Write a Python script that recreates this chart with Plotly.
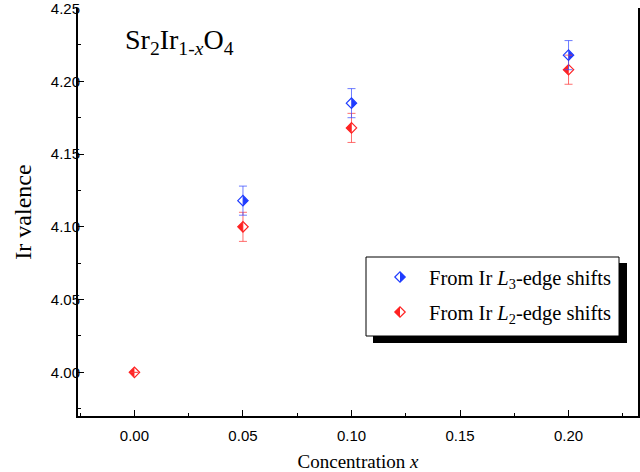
import plotly.graph_objects as go

# ---- data ----
x_L3 = [0.05, 0.10, 0.20]
y_L3 = [4.118, 4.185, 4.218]
e_L3 = [0.010, 0.010, 0.010]

x_L2 = [0.00, 0.05, 0.10, 0.20]
y_L2 = [4.000, 4.100, 4.168, 4.208]
e_L2 = [0.0, 0.010, 0.010, 0.010]

name_L3 = "From Ir <i>L</i><sub>3</sub>-edge shifts"
name_L2 = "From Ir <i>L</i><sub>2</sub>-edge shifts"
title_txt = "Sr<sub>2</sub>Ir<sub>1-<i>x</i></sub>O<sub>4</sub>"

BLUE = "#1f3cff"
RED = "#ff2222"
BLUE_ERR = "rgba(60,80,255,0.75)"
RED_ERR = "rgba(255,60,60,0.75)"

SERIF = "Liberation Serif, Times New Roman, serif"
SANS = "Liberation Sans, Arial, sans-serif"

# ---- geometry (pixels) ----
W, H = 640, 472
L, R, T, B = 78, 638, 8, 416
PW, PH = R - L, B - T


def px(xp):
    return (xp - L) / PW


def py(yp):
    return (B - yp) / PH


MS = 8                     # diamond marker size
CQ = MS * 1.3              # cover square size (half-side = diamond half-diagonal)

fig = go.Figure()


def layer_fill(x, y, color, xa="x", ya="y"):
    fig.add_trace(go.Scatter(x=x, y=y, mode="markers", xaxis=xa, yaxis=ya,
                             showlegend=False, hoverinfo="skip",
                             marker=dict(symbol="diamond", size=MS, color=color,
                                         line=dict(width=0))))


def layer_cover(x, y, side, xa="x", ya="y"):
    # white square shifted to one side to blank half of the diamond
    ang = -90 if side == "right" else 90
    fig.add_trace(go.Scatter(x=x, y=y, mode="markers", xaxis=xa, yaxis=ya,
                             showlegend=False, hoverinfo="skip",
                             marker=dict(symbol="square", size=CQ, color="white",
                                         angle=ang, standoff=CQ / 2,
                                         line=dict(width=0))))


def layer_outline(x, y, color, err=None, errcolor=None, xa="x", ya="y"):
    kw = {}
    if err is not None:
        kw["error_y"] = dict(type="data", array=err, visible=True,
                             color=errcolor, thickness=1, width=4)
    fig.add_trace(go.Scatter(x=x, y=y, mode="markers", xaxis=xa, yaxis=ya,
                             showlegend=False, hoverinfo="skip",
                             marker=dict(symbol="diamond-open", size=MS, color=color,
                                         line=dict(width=1.2, color=color)),
                             **kw))


# data markers: L2 (red, left filled), L3 (blue, right filled)
layer_fill(x_L2, y_L2, RED)
layer_fill(x_L3, y_L3, BLUE)
layer_cover(x_L2, y_L2, "right")
layer_cover(x_L3, y_L3, "left")
layer_outline(x_L2, y_L2, RED, e_L2, RED_ERR)
layer_outline(x_L3, y_L3, BLUE, e_L3, BLUE_ERR)

# legend glyphs on a hidden overlay axis (paper-like 0..1)
lx = [px(400)]
ly3 = [py(277)]
ly2 = [py(312)]
layer_fill(lx, ly3, BLUE, "x2", "y2")
layer_fill(lx, ly2, RED, "x2", "y2")
layer_cover(lx, ly3, "left", "x2", "y2")
layer_cover(lx, ly2, "right", "x2", "y2")
layer_outline(lx, ly3, BLUE, xa="x2", ya="y2")
layer_outline(lx, ly2, RED, xa="x2", ya="y2")

shapes = [
    # legend shadow
    dict(type="rect", xref="paper", yref="paper", layer="below",
         x0=px(373), x1=px(627), y0=py(343), y1=py(263),
         fillcolor="black", line=dict(width=0)),
    # legend box
    dict(type="rect", xref="paper", yref="paper", layer="below",
         x0=px(366), x1=px(619), y0=py(336), y1=py(257),
         fillcolor="white", line=dict(color="black", width=1)),
]

annotations = [
    dict(text=title_txt, xref="paper", yref="paper", x=px(123), y=py(41),
         xanchor="left", yanchor="middle", showarrow=False,
         font=dict(family=SERIF, size=28, color="black")),
    dict(text=name_L3, xref="paper", yref="paper", x=px(427), y=py(279),
         xanchor="left", yanchor="middle", showarrow=False,
         font=dict(family=SERIF, size=20.5, color="black")),
    dict(text=name_L2, xref="paper", yref="paper", x=px(427), y=py(314),
         xanchor="left", yanchor="middle", showarrow=False,
         font=dict(family=SERIF, size=20.5, color="black")),
]

fig.update_layout(
    width=W, height=H,
    margin=dict(l=L, r=W - R, t=T, b=H - B, pad=0),
    paper_bgcolor="white", plot_bgcolor="white",
    showlegend=False,
    shapes=shapes, annotations=annotations,
    xaxis=dict(range=[-0.026, 0.232], tick0=0, dtick=0.05, tickformat=".2f",
               automargin=False,
               showgrid=False, zeroline=False,
               showline=True, linecolor="black", linewidth=2, mirror=False,
               ticks="inside", ticklen=6, tickwidth=1.2, tickcolor="black",
               minor=dict(ticks="inside", ticklen=3, tickwidth=1.2,
                          dtick=0.025, tick0=0, tickcolor="black", showgrid=False),
               tickfont=dict(family=SANS, size=15, color="black"),
               ticklabelstandoff=5,
               title=dict(text="Concentration <i>x</i>", standoff=12,
                          font=dict(family=SERIF, size=19, color="black"))),
    yaxis=dict(range=[3.97, 4.2504], tick0=4.0, dtick=0.05, tickformat=".2f",
               automargin=False, ticklabeloverflow="allow",
               showgrid=False, zeroline=False,
               showline=True, linecolor="black", linewidth=2, mirror=True,
               ticks="inside", ticklen=6, tickwidth=1.2, tickcolor="black",
               minor=dict(ticks="inside", ticklen=3, tickwidth=1.2,
                          dtick=0.025, tick0=4.0, tickcolor="black", showgrid=False),
               tickfont=dict(family=SANS, size=15, color="black"),
               ticklabelstandoff=-7,
               title=dict(text="Ir valence", standoff=12,
                          font=dict(family=SERIF, size=24, color="black"))),
    xaxis2=dict(overlaying="x", range=[0, 1], visible=False, automargin=False),
    yaxis2=dict(overlaying="y", range=[0, 1], visible=False, automargin=False),
)

fig.write_html("out.html", config={"displayModeBar": False},
               post_script="document.body.style.margin='0px';")
